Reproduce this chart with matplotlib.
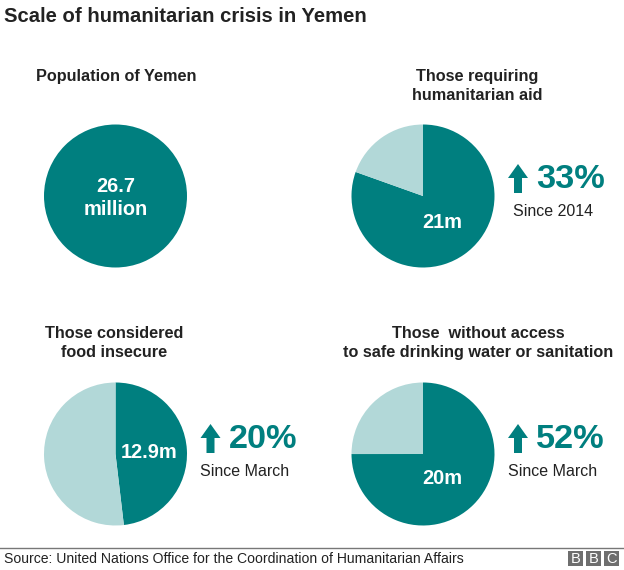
import matplotlib
matplotlib.use('Agg')
import matplotlib.pyplot as plt
from matplotlib.patches import Rectangle, FancyArrow

plt.rcParams['font.family'] = ['Liberation Sans', 'DejaVu Sans']

W, H = 624, 570
TEAL = '#007f7f'
LIGHT = '#b2d8d8'
DARK = '#222222'

# slice sizes as drawn in the picture
affected = [26.7, 21, 12.9, 20]
rest = [0, 5.1, 13.9, 6.67]
inside_labels = ['26.7\nmillion', '21m', '12.9m', '20m']
titles = ['Population of Yemen', 'Those requiring\nhumanitarian aid',
          'Those considered\nfood insecure',
          'Those  without access\nto safe drinking water or sanitation']
changes = [None, '33%', '20%', '52%']
since = [None, 'Since 2014', 'Since March', 'Since March']

centres = [(115.5, 196), (423, 196), (115.5, 454), (423, 454)]
title_pos = [(116, 77), (477, 86), (114, 343), (478, 343)]
label_pos = [(116, 198), (442, 222), (149.5, 452), (442, 479)]
arrow_x = [None, 518, 210.5, 518]
arrow_top = [None, 164, 424, 424]
pct_x = [None, 536, 229, 536]
since_x = [None, 513, 200, 508]
radius = 71.5

fig = plt.figure(figsize=(W / 100, H / 100), dpi=100)
# overlay in pixel coords, y pointing down, for all the text
bg = fig.add_axes([0, 0, 1, 1])
bg.set_xlim(0, W)
bg.set_ylim(H, 0)
bg.axis('off')
bg.set_zorder(5)

for i, (cx, cy) in enumerate(centres):
    ax = fig.add_axes([(cx - radius) / W, 1 - (cy + radius) / H, 2 * radius / W, 2 * radius / H])
    ax.pie([affected[i], rest[i]], colors=[TEAL, LIGHT], startangle=90, counterclock=False, radius=1)
    ax.set_xlim(-1, 1)
    ax.set_ylim(-1, 1)

    bg.text(title_pos[i][0], title_pos[i][1], titles[i], ha='center', va='center', fontsize=11.7,
            fontweight='bold', color=DARK, linespacing=1.3)
    bg.text(label_pos[i][0], label_pos[i][1], inside_labels[i], ha='center', va='center', fontsize=14.4,
            fontweight='bold', color='white', linespacing=1.25)

for i in range(1, 4):
    x = arrow_x[i]
    top = arrow_top[i]
    bg.add_patch(FancyArrow(x, top + 29, 0, -29, width=8, head_width=20, head_length=14,
                            length_includes_head=True, color=TEAL, lw=0))
    bg.text(pct_x[i], top + 16, changes[i], ha='left', va='center', fontsize=24.7,
            fontweight='bold', color=TEAL)
    bg.text(since_x[i], top + 48, since[i], ha='left', va='center', fontsize=11.5, color=DARK)

bg.text(4, 17, 'Scale of humanitarian crisis in Yemen', ha='left', va='center', fontsize=14.6,
        fontweight='bold', color=DARK)

bg.plot([0, W], [547.5, 547.5], color='#777777', lw=1)
bg.text(4, 559, 'Source: United Nations Office for the Coordination of Humanitarian Affairs',
        ha='left', va='center', fontsize=10.05, color=DARK)

for x0, letter in zip([568, 586, 604], 'BBC'):
    bg.add_patch(Rectangle((x0, 551), 15, 15, color='#6e6e6e', lw=0))
    bg.text(x0 + 7.5, 559, letter, ha='center', va='center', fontsize=10.5, color='white')

fig.savefig('out.png', dpi=100)
